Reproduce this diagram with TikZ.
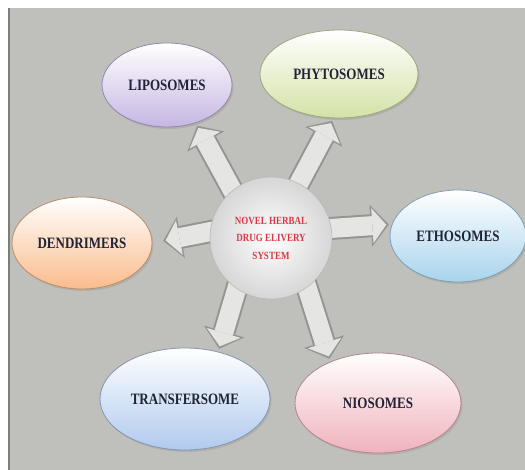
\documentclass[tikz,border=0pt]{standalone}
\usepackage{fontspec}
\setmainfont{Liberation Serif}
\usepackage{graphicx}
\usetikzlibrary{shapes.geometric,arrows.meta,shadows}

% Colours
\definecolor{panelgray}{RGB}{191,191,188}
\definecolor{paneledge}{RGB}{125,125,122}
\definecolor{labelink}{RGB}{35,35,55}
\definecolor{hubred}{RGB}{226,55,66}
\definecolor{arrowrim}{RGB}{148,148,146}
\definecolor{arrowcore}{RGB}{229,229,227}
\definecolor{lipofill}{RGB}{198,182,226}
\definecolor{phytofill}{RGB}{212,226,166}
\definecolor{ethofill}{RGB}{168,212,236}
\definecolor{dendrifill}{RGB}{250,188,140}
\definecolor{transfill}{RGB}{176,202,238}
\definecolor{niofill}{RGB}{240,178,188}

\pgfdeclarelayer{panel}
\pgfdeclarelayer{links}
\pgfsetlayers{panel,links,main}

% Stretched capitals as in the picture
\newcommand{\tall}[1]{\scalebox{1}[1.22]{#1}}
% Block arrow from the hub to one carrier
\newcommand{\spoke}[3][3pt]{%
  \draw[spokerim, shorten >=#1] #2 -- #3;
  \draw[spokecore, shorten >=#1+2.5pt] #2 -- #3;}

\tikzset{
  oval/.style={ellipse, inner sep=0pt, line width=0.8pt,
    draw=#1!75!black, top color=white, bottom color=#1,
    font=\fontsize{13}{15}\selectfont\bfseries, text=labelink,
    drop shadow={shadow xshift=1.5pt, shadow yshift=-2pt, opacity=0.25}},
  spokerim/.style={draw=arrowrim, line width=23pt, shorten <=-8pt,
    -{Triangle[length=18pt, width=42pt, line width=0pt]}},
  spokecore/.style={draw=arrowcore, line width=19pt, shorten <=-8pt,
    -{Triangle[length=14pt, width=35pt, line width=0pt]}},
}

\begin{document}
\begin{tikzpicture}[x=1pt, y=-1pt]
  \useasboundingbox (0,0) rectangle (525,470);

  % Grey panel
  \begin{pgfonlayer}{panel}
    \fill[panelgray] (8,8) rectangle (525,470);
    \draw[paneledge, line width=1.5pt] (9,8) -- (9,470);
  \end{pgfonlayer}

  % Hub
  \node[circle, minimum size=122pt, inner sep=0pt, draw=gray!55,
        line width=0.6pt, inner color=white, outer color=gray!32,
        align=center, text=hubred,
        font=\fontsize{9}{17.5}\selectfont\bfseries] (hub) at (271,238)
    {\tall{NOVEL HERBAL}\\ \tall{DRUG ELIVERY}\\ \tall{SYSTEM}};

  % Carriers
  \node[oval=lipofill, minimum width=130pt, minimum height=84pt] (lipo) at (167,85) {\tall{LIPOSOMES}};
  \node[oval=phytofill, minimum width=158pt, minimum height=88pt] (phyto) at (339,74) {\tall{PHYTOSOMES}};
  \node[oval=ethofill, minimum width=136pt, minimum height=92pt] (etho) at (458,236) {\tall{ETHOSOMES}};
  \node[oval=dendrifill, minimum width=140pt, minimum height=92pt] (dendri) at (82,243) {\tall{DENDRIMERS}};
  \node[oval=transfill, minimum width=170pt, minimum height=102pt] (trans) at (185,399) {\tall{TRANSFERSOME}};
  \node[oval=niofill, minimum width=166pt, minimum height=100pt] (nio) at (378,403) {\tall{NIOSOMES}};

  % Arrows out of the hub
  \begin{pgfonlayer}{links}
    \spoke{(hub.129)}{(lipo.-53)}
    \spoke{(hub.63)}{(phyto.-97)}
    \spoke{(hub.9)}{(etho.170)}
    \spoke[11pt]{(hub.174)}{(dendri.0)}
    \spoke{(hub.236)}{(trans.55)}
    \spoke{(hub.-54)}{(nio.139)}
  \end{pgfonlayer}
\end{tikzpicture}
\end{document}
